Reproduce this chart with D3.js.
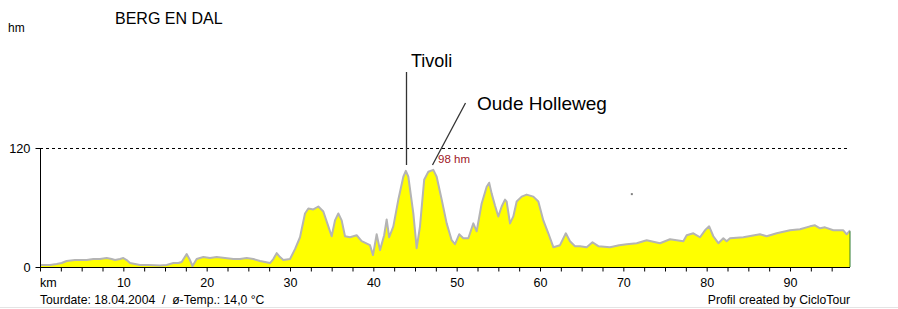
<!DOCTYPE html>
<html><head><meta charset="utf-8">
<script src="https://cdn.jsdelivr.net/npm/d3@7/dist/d3.min.js"></script>
<style>
html,body{margin:0;padding:0;background:#fff;}
svg{display:block;font-family:"Liberation Sans",Arial,sans-serif;}
</style></head>
<body>
<svg id="c" width="898" height="309"></svg>
<script>
const title = "BERG EN DAL";
const yUnit = "hm";
const xUnit = "km";
const footerLeft = "Tourdate: 18.04.2004  /  ø-Temp.: 14,0 °C";
const footerRight = "Profil created by CicloTour";
const km = [0,0.6,1.2,2.0,2.6,3.2,4.2,5.6,6.4,7.2,8.0,8.6,9.0,9.6,10.0,10.4,10.8,11.4,12,13,14.4,15.2,16,16.6,17,17.3,17.6,18.0,18.3,18.8,19.6,20.4,21.2,22.2,23.2,24,24.8,25.6,26.4,27,27.6,28.0,28.4,28.8,29.2,30,30.6,31.2,31.8,32.2,32.8,33.4,34,34.6,35,35.4,35.8,36.2,36.6,37.2,38,38.6,39.6,39.96,40.4,40.8,41.3,41.6,41.9,42.4,43,43.6,43.9,44.2,44.8,45.2,45.6,46.1,46.6,47.2,47.6,48.2,48.8,49.4,49.8,50.3,50.8,51.4,52,52.4,53,53.6,53.9,54.2,54.6,55,55.4,55.8,56,56.4,56.8,57.2,57.8,58.4,59.2,59.8,60.4,61,61.6,62.4,63.1,63.6,64.2,64.8,65.6,66.3,67,68.4,69.5,70.4,71.6,72.8,74.4,75.6,76.4,77.2,77.6,78.4,79.2,79.8,80.3,80.8,81.4,82,82.4,82.8,84.4,86.4,87.2,88.4,90,91.2,92.4,93,93.6,94.2,95.2,96.4,96.8,97.2];
const hm = [2,2,2,3,4,6,7,7,8,8,9,8,7,8,9,7,4,3,2,2,1.5,2,4,4,5,9,13,7,1,8,10,9,10,9,8,8,9,8,6,5,4,8,14,10,7,8,18,30,54,59,58,61,56,41,31,47,54,47,31,30,32,26,22,12,33,17,32,48,30,41,68,91,97,91,54,19,41,88,96,98,91,68,44,27,23,33,29,29,44,36,64,81,85,74,62,51,61,68,66,44,51,66,71,73,71,66,47,34,20,22,34,26,21,21,20,25,21,20,22,23,24,27,24,28,27,26,32,34,30,37,41,31,24,29,26,29,30,33,31,34,37,38,41,42,39,40,37,37,33,37];
const xTicks = [0,2.5,5,7.5,10,12.5,15,17.5,20,22.5,25,27.5,30,32.5,35,37.5,40,42.5,45,47.5,50,52.5,55,57.5,60,62.5,65,67.5,70,72.5,75,77.5,80,82.5,85,87.5,90,92.5,95];
const xLabels = [10,20,30,40,50,60,70,80,90];
const yTicks = [0,120];
const climbs = [
  {name:"Tivoli", km:43.9, top:97, label:[411,67], line:[[406.5,72],[406.5,165]]},
  {name:"Oude Holleweg", km:47.2, top:98, label:[477,110], line:[[465.5,103],[432.5,165]]}
];
const maxLabel = "98 hm";
const strayPoints = [{km:70.9, hm:74.5}];

const svg = d3.select("#c");
const x = d3.scaleLinear().domain([0, 97.2]).range([40, 850]);
const y = d3.scaleLinear().domain([0, 120]).range([267, 148]);
const data = km.map((k,i)=>({k, h:hm[i]}));

svg.append("path").datum(data)
  .attr("d", d3.area().x(d=>x(d.k)).y0(y(0)).y1(d=>y(d.h)))
  .attr("fill", "#ffff00");
svg.append("path").datum(data)
  .attr("d", d3.line().x(d=>x(d.k)).y(d=>y(d.h)))
  .attr("fill", "none").attr("stroke", "#b4b4b4").attr("stroke-width", 2).attr("stroke-linejoin","round");
svg.append("line")
  .attr("x1", x(km[km.length-1])).attr("x2", x(km[km.length-1]))
  .attr("y1", y(hm[hm.length-1])+1).attr("y2", y(0))
  .attr("stroke", "#2e7d32").attr("stroke-width", 1);

svg.append("line")
  .attr("x1", x(0)).attr("x2", 848).attr("y1", y(120)+0.5).attr("y2", y(120)+0.5)
  .attr("stroke", "#000").attr("stroke-width", 1).attr("stroke-dasharray", "3,3");

const xAxis = d3.axisBottom(x).tickValues(xTicks).tickSize(4).tickPadding(7)
  .tickFormat(d => xLabels.includes(d) ? String(d) : "");
const gx = svg.append("g").attr("transform", `translate(0,${y(0)+0.5})`).call(xAxis);
gx.select(".domain").attr("d", `M${x(0)},0H${x(97.2)}`).attr("stroke","#000");
gx.selectAll("text").attr("font-size", 12.5).attr("fill","#000").attr("font-family","Liberation Sans, Arial, sans-serif");
gx.selectAll("line").attr("stroke","#000");

const yAxis = d3.axisLeft(y).tickValues(yTicks).tickSize(5).tickPadding(5);
const gy = svg.append("g").attr("transform", `translate(${x(0)+0.5},0)`).call(yAxis);
gy.select(".domain").attr("d", `M0,${y(120)}V${y(0)}`).attr("stroke","#000");
gy.selectAll("text").attr("font-size", 12.8).attr("fill","#000").attr("font-family","Liberation Sans, Arial, sans-serif");
gy.selectAll("line").attr("stroke","#000");

svg.append("text").attr("x", 40).attr("y", 287).attr("font-size", 12.5).text(xUnit);
svg.append("text").attr("x", 8).attr("y", 32).attr("font-size", 12).text(yUnit);
svg.append("text").attr("x", 115).attr("y", 24).attr("font-size", 16).text(title);

climbs.forEach(c => {
  svg.append("line").attr("x1", c.line[0][0]).attr("y1", c.line[0][1])
    .attr("x2", c.line[1][0]).attr("y2", c.line[1][1])
    .attr("stroke", "#333").attr("stroke-width", 1.3);
  svg.append("text").attr("x", c.label[0]).attr("y", c.label[1])
    .attr("font-size", c.name.length > 8 ? 19 : 18).attr("fill","#000").text(c.name);
});
svg.append("text").attr("x", 438).attr("y", 163).attr("font-size", 11.5).attr("fill", "#a01828").text(maxLabel);

strayPoints.forEach(p => {
  svg.append("rect").attr("x", x(p.km)).attr("y", y(p.hm)).attr("width", 2).attr("height", 2).attr("fill", "#808080");
});

svg.append("text").attr("x", 40).attr("y", 304).attr("font-size", 12.2).text(footerLeft).style("white-space","pre");
svg.append("text").attr("x", 850).attr("y", 304).attr("font-size", 12.2).attr("text-anchor","end").text(footerRight);
svg.append("line").attr("x1",0).attr("x2",898).attr("y1",307.5).attr("y2",307.5).attr("stroke","#e4e4e4").attr("stroke-width",1);
</script>
</body></html>
